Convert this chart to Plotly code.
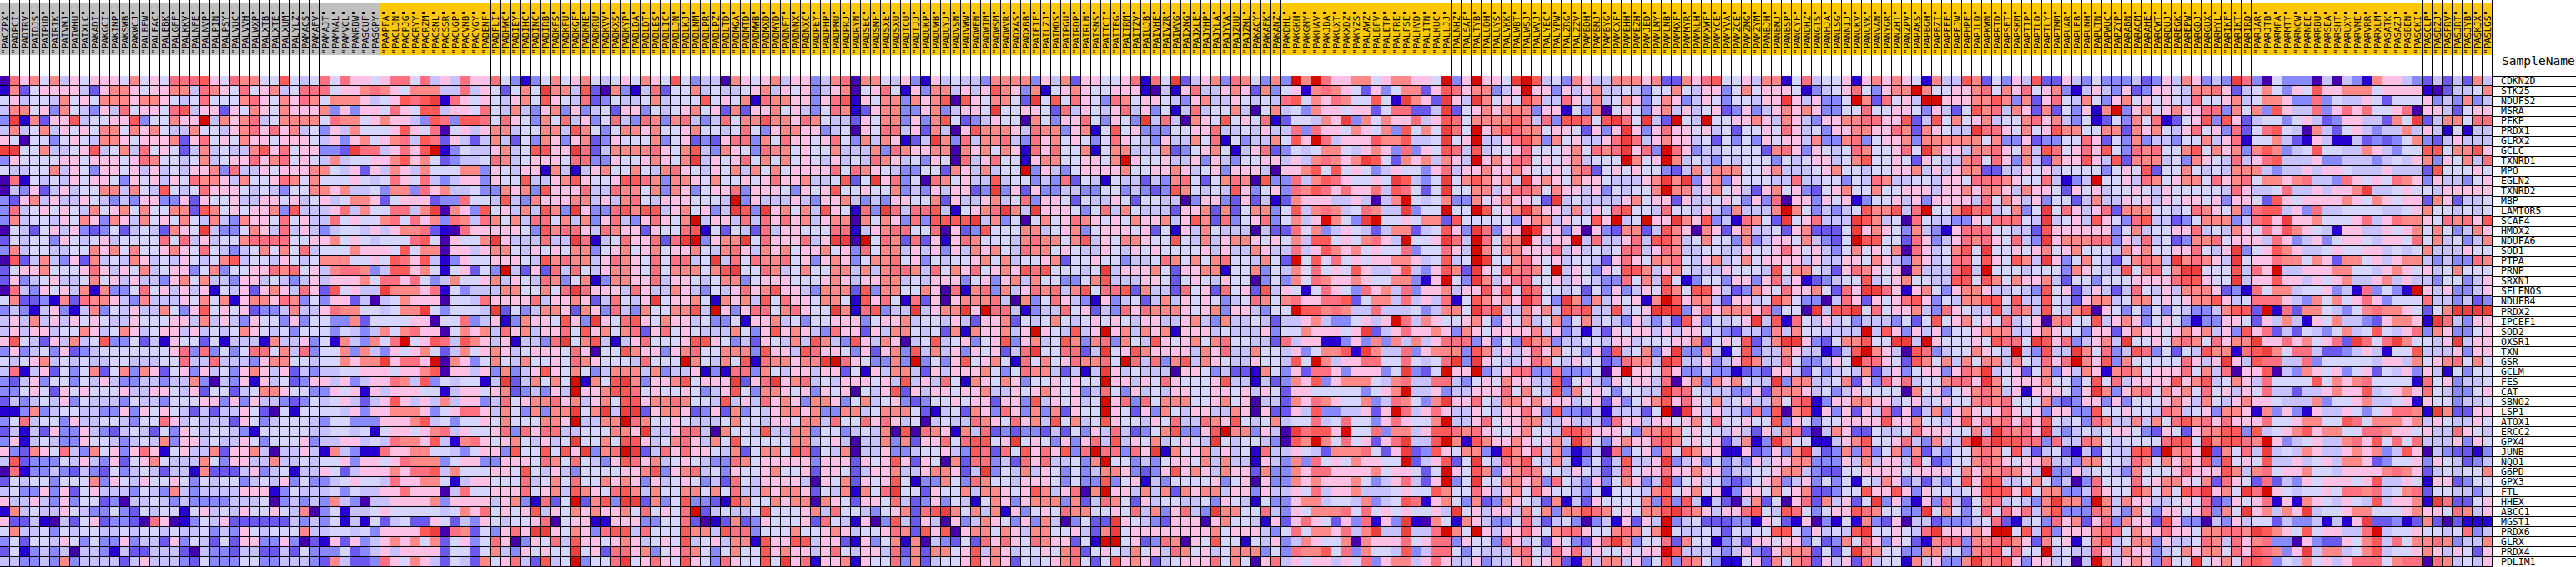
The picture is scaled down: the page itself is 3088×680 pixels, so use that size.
import plotly.graph_objects as go

GENES = """CDKN2D STK25 NDUFS2 MSRA PFKP PRDX1 GLRX2 GCLC TXNRD1 MPO EGLN2 TXNRD2 MBP LAMTOR5 SCAF4 HMOX2 NDUFA6 SOD1 PTPA PRNP SRXN1 SELENOS NDUFB4 PRDX2 IPCEF1 SOD2 OXSR1 TXN GSR GCLM FES CAT SBNO2 LSP1 ATOX1 ERCC2 GPX4 JUNB NQO1 G6PD GPX3 FTL HHEX ABCC1 MGST1 PRDX6 GLRX PRDX4 PDLIM1""".split()

SAMPLES_GRAY = """PACZPX PADPCI PADTRV PAIDJS PAIPUD PAIRIK PAIVMJ PAIWHU PAIXLC PAKADI PAKGCI PAKINP PAKSWB PAKWCJ PALBFW PALEAC PALEBK PALGFF PALKKV PALNFE PALNVP PALPIN PALPSY PALVUC PALVVH PALWXP PALXTB PALXTE PALXUM PALYLZ PAMACS PAMAFV PAMAJT PAMNAL PAMVCL PANRBW PASCUF PASGPY""".split()

SAMPLES_GOLD = """PAAPFA PACLJN PACPJG PACRYY PACRZM PACSNL PACSSR PACUGP PACVNB PACYGY PADENF PADFLI PADHWC PADIEY PADIHC PADINC PADIRB PADKFS PADKFU PADKGF PADKNE PADKRU PADKVV PADKXS PADKYP PADLDA PADLDT PADLES PADLIC PADLJN PADLKJ PADLNM PADLPR PADLPZ PADLTD PADMGA PADMTD PADMWB PADMXD PADMYD PADNFT PADNNX PADNXC PADPEY PADPHP PADPMU PADPRJ PADRYN PADSEC PADSMF PADSXE PADSXU PADTCU PADTJJ PADUKP PADUWB PADUYJ PADVSN PADVWW PADWEN PADWIM PADWSM PADWVR PADXAS PADXBB PAIEIF PAILZJ PAIMDS PAIPGU PAIRDP PAIRLN PAISNS PAITCI PAITEG PAITRM PAITZV PAIUJB PAIVHE PAIVZR PAIWVG PAIXNG PAJXLE PAJYHP PAJYLA PAJYVA PAJZUU PAJZML PAKACY PAKAFK PAKANZ PAKDHL PAKGKH PAKGMY PAKHAV PAKJBA PAKUXT PAKXDZ PAKYZS PALAWZ PALBFV PALETP PALFRE PALFSE PALHVD PALITN PALKUC PALLJJ PALNHZ PALSAF PALTYB PALUDH PALUYS PALVKK PALWBT PALWSJ PALWVJ PALYEC PALYPW PALZRG PALZZV PAMBDH PAMBMJ PAMBYG PAMCXF PAMEHH PAMEZH PAMJED PAMLMY PAMLNB PAMMXF PAMMYR PAMNLH PAMXWF PAMYCE PAMYVA PAMZCE PAMZMG PAMZYM PANBJH PANBMJ PANBSP PANCYF PANDHZ PANGTS PANHJA PANLSG PANNIJ PANUKV PANUVK PANVAN PANYGR PANZHT PANZPV PAPAKS PAPBGH PAPBZI PAPEEE PAPEJW PAPHPE PAPJLD PAPKWN PAPRTD PAPSET PAPSKM PAPTIP PAPTLD PAPTLY PAPTMM PAPUAR PAPUEB PAPUNH PAPUTN PAPWUC PAPZYP PARABN PARACM PARAHE PARCWT PARDUJ PAREGK PAREPW PARGDJ PARGUX PARHYL PARIKF PARIKT PARIRD PARJAR PARJTB PARMFA PARMTT PARNCW PARNEE PARRBU PARSEA PARSHT PARUXY PARVME PARVRR PARXLM PASATK PASAZJ PASBEN PASCKI PASCLP PASDZJ PASFRV PASJRT PASJYB PASKJX PASLGS""".split()

# Colour level of each cell (hex digit 0-b), one block of columns at a time
BLOCK_1 = """0867574656665756588896587755954
1725666642677656677487658567458
5645547565777677654585557865768
4775637543648566589466265765766
3a172669455669355766b4767845777
4745746565775767544755467868674
6505535654776566672685657665666
aa55744569457485652474544 79685 6
3655556656665687554574566867856
5445574653665646454667384465666
0815454656653 65646587764755687
0436246455774754954586665454355
3267464465434366336265564466564
3845656547567575577297565667394
3745546576376475657547 4376658 56
0542564632352454276 5a4335764846
2545536545645555858464557888855
3745544557675755676585 4345757584
09247436274547645 4654579455465 46
2566755568646574566357355 668785 5
2634564457564644367574 4366454 34
08436564717335 8564 6 4615462676487
5722317287764374446575 7 1677687 38
34 31463 1 47354644753695656233474
4647464656544 655566474643655363
4646645 5 7645764566464545765453 
69542647459335 2 41655251444 1744 6
3634536234555555568383535885 74846
5456745454455444558448 4443677554 4
4814625357257376256 3645367 64624
32463553546433443447 3043616 4 52344
335 65265655564466546255245776555
2434546354443544355566363644 32344
1137345544336 365 6 542424465 2 05 15
358455364455435 58645 44426534 5555
2414263364324 54253654554 315 55552
3614543365543454736645 44653555 63 4
63276 584 37563 68 6 1564 47 2667 4 044 6
49 23335 46436 25 67544 47536644 744
0813343243 2 5 345 42 441 7 222 463 4 51 4
25455 35557 3 654655 6 53 545 53 4 54 6 35
45 3 3 6 3 6 2 5 6 4 4 4 3 5 4 3 7 4 3 4 4 4 4 6 6 6 1 3 5 4
6446 4 3 6 3 5 5 2 3 0 4 4 5 4 3 4 3 3 3 3 4 4 4 5 0 3 4 3
1745446 5 4 3 3 5 3 2 5 4 5 5 1 5 6 4 5 4 6 5 5 6 5 4 7
6 2 2 4 1 0 4 2 5 6 2 3 3 2 0 8 6 0 1 3 5 4 6 2 2 2 2 2 2 4 3
5 7 4 4 5 3 5 4 5 5 4 4 5 4 5 5 4 5 4 4 5 3 4 3 6 5 4 5 5 5 7
3 5 2 5 5 4 6 5 3 5 3 3 6 3 4 4 2 6 3 5 4 2 5 2 6 6 3 3 6 3 0
2 5 1 3 4 3 4 0 4 4 3 1 4 2 2 4 4 4 2 0 4 3 3 2 4 4 2 2 4 2 5
4 4 3 3 4 3 7 3 4 4 4 4 2 4 6 4 4 4 3 2 5 3 3 3 5 5 3 3 4 4 4""".split("\n")

BLOCK_2 = """5 8 5 8 6 6 5 6 8 8 5 8 4 6 4 8 6 6 8 5 3 1 3 5 7 5 6 7 5 4 5
8 8 5 6 6 7 8 7 6 5 7 7 7 4 4 8 4 6 5 2 5 7 5 a 7 7 4 9 2 0 7
7 5 7 7 7 6 4 5 6 9 8 9 a 1 8 6 5 6 5 4 6 7 5 9 6 5 4 8 2 3 5
6 7 3 6 3 6 6 5 8 6 5 9 9 4 6 6 5 8 5 4 7 4 3 6 7 3 6 3 4 5 2
7 5 8 7 7 5 6 7 6 6 4 3 9 8 3 9 9 8 5 8 6 5 3 7 5 8 4 6 3 5 8
5 3 6 4 7 5 5 5 6 9 6 5 8 0 5 6 4 6 7 7 4 5 5 7 7 4 9 7 5 3 5
5 4 6 3 6 7 5 6 7 8 4 9 8 2 6 4 2 4 7 4 2 5 3 7 6 3 6 7 2 3 6
6 3 3 2 a 8 8 4 6 8 6 9 b 1 3 5 4 4 6 7 4 5 9 9 6 6 a 8 2 4 7
5 4 7 4 5 5 6 6 7 9 6 7 5 2 3 4 4 5 8 7 4 5 6 6 6 5 8 8 3 3 6
7 7 5 4 6 2 6 4 7 6 4 7 5 5 5 7 7 3 6 5 4 6 6 1 7 4 1 4 6 7 5
7 5 5 5 6 5 4 5 8 6 5 8 4 3 4 6 6 3 6 5 5 9 4 4 6 7 9 6 5 5 6
7 7 6 7 4 4 5 3 7 7 3 8 6 7 4 4 5 3 3 7 6 7 3 9 6 6 6 8 4 4 8
5 6 4 5 7 7 6 2 5 6 6 6 2 3 3 8 5 5 4 9 4 3 7 6 6 6 7 7 4 6 4
4 4 6 8 4 7 5 5 8 8 4 7 a 0 7 6 3 9 5 6 4 7 4 9 7 3 a 6 3 3 8
4 4 8 5 6 5 5 7 8 5 8 6 7 3 8 7 4 8 7 5 7 4 8 8 5 7 4 7 3 6 8
4 3 4 5 5 4 6 4 6 7 7 8 2 1 0 8 6 6 6 6 6 5 3 9 7 8 8 6 4 8 7
6 6 7 5 6 5 4 5 5 5 8 9 5 0 6 5 5 7 a 6 4 4 4 8 4 4 a 8 1 4 5
4 5 5 5 7 6 6 6 5 9 5 7 7 0 6 6 4 6 7 7 5 4 6 5 6 5 7 7 3 5 6
5 7 7 7 5 5 6 5 9 8 6 9 4 1 3 6 5 5 6 6 6 5 4 9 7 8 7 7 4 6 8
6 4 7 8 8 7 3 4 9 9 6 7 5 1 5 6 2 5 3 b 4 2 6 2 8 4 8 5 4 6 7
6 4 6 6 6 7 5 8 8 6 8 5 3 4 7 5 5 6 7 4 6 5 4 8 7 3 5 7 1 3 7
6 2 9 5 6 4 4 a 7 7 7 6 8 1 5 3 4 4 4 7 7 5 5 7 5 8 a 8 6 6 6
5 3 6 6 2 4 0 4 5 7 6 6 6 0 5 5 4 8 6 6 6 6 8 4 6 6 7 6 2 4 8
4 6 8 7 7 5 5 4 5 7 7 a 5 3 5 5 5 4 a 2 5 3 4 7 7 6 2 7 6 3 8
5 5 3 3 7 2 5 5 5 5 6 6 0 5 5 8 3 4 6 1 3 7 6 6 5 9 6 3 a 6 5
5 5 3 5 4 3 4 7 5 7 8 6 6 0 5 7 6 7 4 8 6 7 4 6 6 8 5 9 6 7 5
3 5 1 7 4 3 7 5 8 b 5 6 9 8 4 9 7 6 4 6 1 4 4 3 8 a 5 7 9 4 1
3 5 5 7 3 7 4 3 6 5 6 7 5 2 4 7 5 6 7 6 4 5 6 6 6 5 8 6 0 5 5
4 5 5 7 6 7 7 a 6 8 8 6 b 0 7 6 3 5 7 5 4 7 5 5 6 5 8 7 6 5 5
3 4 4 5 5 6 6 6 5 6 6 7 9 0 6 6 4 6 3 7 3 4 6 9 6 5 7 5 3 4 7
6 6 4 6 3 4 6 6 8 7 4 9 3 5 4 5 5 1 4 a 2 4 7 5 7 5 b 1 7 5 9
3 3 6 5 6 1 6 4 6 6 6 5 5 1 4 6 6 5 6 7 2 3 4 3 6 4 b 6 6 7 9
5 4 5 6 4 2 4 6 9 6 4 6 4 7 4 6 6 3 4 8 5 6 7 7 8 6 7 4 6 7 5
5 5 5 4 6 3 6 6 7 7 7 6 3 5 6 8 8 6 4 7 5 3 7 3 7 7 a 5 7 a 4
4 3 5 5 3 3 3 6 6 6 7 9 4 5 3 5 5 6 5 7 5 5 5 7 7 6 b 4 4 7 7
4 4 5 5 4 5 1 5 6 6 5 6 7 8 4 6 5 5 6 8 3 8 6 8 8 4 4 5 5 5 7
3 4 4 6 6 4 5 4 8 7 7 6 9 4 1 7 8 6 5 6 7 5 4 6 4 5 a 5 5 7 5
4 1 7 4 3 1 1 8 6 6 7 7 5 5 4 3 5 6 6 3 9 5 5 9 5 9 6 a 3 7 8
4 5 5 6 3 6 6 5 6 8 7 7 7 3 5 6 6 3 3 6 6 6 5 8 7 5 8 5 4 3 6
4 6 5 2 4 6 6 6 7 6 8 8 9 4 7 5 5 5 6 6 5 9 5 4 6 4 3 5 5 5 5
3 3 4 5 6 5 5 4 8 6 6 7 7 5 1 4 6 6 5 5 5 8 4 5 7 5 8 5 5 7 6
4 4 5 3 5 4 4 6 6 8 6 6 6 0 4 8 5 5 6 6 6 8 5 6 7 4 9 7 6 5 8
4 3 7 4 3 0 4 4 6 6 6 6 7 3 6 6 6 6 4 6 7 3 1 8 2 5 b 2 7 9 3
0 3 5 1 4 4 5 6 5 5 5 5 5 4 5 7 6 8 5 6 5 6 9 4 6 5 7 6 7 6 6
4 3 5 1 4 1 5 2 4 5 2 2 6 5 2 4 3 6 5 4 5 5 6 8 0 5 6 6 1 1 6
4 4 5 5 4 5 3 6 6 6 6 9 a 0 8 7 2 5 3 6 8 6 a a 6 5 7 6 3 8 9
2 1 6 2 6 3 4 6 7 6 7 5 7 2 5 6 3 5 8 6 0 3 6 5 8 4 9 6 6 5 6
3 3 3 5 2 3 4 6 4 6 6 6 6 2 5 5 2 5 7 4 3 6 5 6 5 5 a 5 6 2 8
3 2 7 4 2 2 3 8 6 5 7 6 4 2 5 4 2 7 5 6 8 4 2 9 4 5 b 3 5 5 8""".split("\n")

BLOCK_3 = """6 5 7 6 5 9 5 3 4 4 0 7 6 5 6 7 4 6 6 3 4 7 8 0 7 7 5 4 6 3 1
3 1 4 8 2 5 5 7 4 5 4 4 5 6 7 4 6 5 6 3 4 6 7 0 5 6 8 5 1 6 3
4 4 5 7 4 5 5 5 9 5 6 5 7 1 8 7 7 6 6 3 6 8 9 1 6 5 7 7 3 7 6
6 6 3 5 4 5 6 7 5 6 2 7 2 6 6 7 5 6 4 3 5 8 7 1 2 6 7 7 3 3 6
4 3 8 7 3 7 8 4 3 4 8 5 7 7 9 7 7 6 8 7 5 4 4 2 6 5 7 7 3 6 3
7 7 6 7 5 5 6 7 5 5 4 5 8 5 3 6 7 7 6 6 3 4 5 0 6 5 8 8 4 6 2
5 5 5 7 3 5 6 2 3 2 6 8 8 3 7 5 8 6 6 5 6 8 5 3 7 4 7 6 1 2 4
7 7 7 8 6 5 7 9 4 3 7 6 5 3 8 7 7 5 6 5 5 7 4 4 4 7 3 8 7 6 6
5 5 6 7 6 5 7 a 4 6 5 6 8 5 7 5 7 5 6 5 4 6 4 5 4 8 7 6 4 5 3
5 7 5 4 7 8 6 5 4 6 5 7 4 7 5 7 5 6 6 6 6 8 5 8 7 6 5 4 3 3 5
9 9 8 7 3 7 7 6 5 7 5 5 6 5 6 8 6 6 7 4 4 5 9 2 5 a 6 8 3 5 0
7 7 5 7 3 7 6 3 5 6 6 8 3 6 6 6 5 3 6 5 6 9 5 5 6 5 5 7 3 4 3
7 8 5 4 6 6 6 5 5 5 4 b 3 6 4 4 4 6 4 3 6 6 7 4 3 4 3 6 6 5 5
9 7 9 9 4 6 7 5 6 3 4 a 9 3 a 6 7 5 7 4 9 6 5 1 8 3 a 8 4 8 8
4 3 6 8 6 5 7 b 4 6 6 4 8 4 8 6 8 6 7 4 6 7 7 0 7 5 7 6 3 8 3
6 6 2 6 5 5 8 9 1 5 2 5 4 2 8 4 6 6 5 5 5 8 8 1 4 6 7 8 8 5 5
8 6 6 8 2 8 a b 3 6 7 7 a 5 8 6 6 6 8 4 6 a a 0 b 5 8 7 2 8 2
7 5 6 7 5 6 6 7 5 4 7 8 6 4 7 6 7 5 6 6 7 5 6 3 8 5 7 7 4 6 4
7 6 5 8 5 8 8 4 5 a 4 8 5 8 7 7 8 5 6 3 6 7 6 3 5 7 7 8 5 6 3
7 6 5 8 5 7 7 7 5 7 9 a 5 5 8 7 4 5 7 5 5 7 7 4 7 4 7 8 8 7 4
7 6 6 8 4 6 6 5 4 5 7 7 3 5 6 6 6 5 5 5 6 7 6 4 6 6 7 7 4 5 4
4 8 6 4 4 7 6 4 3 5 4 6 8 6 7 9 6 6 4 3 7 7 7 2 9 3 7 7 5 5 7
5 4 6 a 5 6 6 7 5 1 7 6 7 4 9 5 8 6 6 5 7 7 5 1 9 6 8 5 1 8 2
4 3 7 5 5 7 7 9 4 b 6 3 6 8 8 5 7 8 6 5 5 a 7 1 8 9 3 4 4 a 4
8 9 6 5 7 6 6 4 5 3 3 5 1 6 6 7 4 5 3 5 5 6 6 6 3 5 6 6 7 4 5
7 8 2 6 8 5 6 5 4 4 4 7 5 3 6 9 6 7 6 4 3 8 6 6 2 6 4 7 7 5 4
4 6 8 5 5 5 6 9 9 6 5 3 4 2 6 5 4 7 4 9 7 4 3 9 6 4 7 6 0 4 5
9 7 6 6 3 6 7 8 5 5 7 7 7 3 9 6 6 4 9 8 6 6 5 3 6 2 6 7 3 9 4
5 4 8 5 5 5 b 7 5 4 7 5 9 1 8 7 7 6 7 7 a b 8 6 5 3 3 7 3 b 3
7 7 4 7 3 4 4 6 1 3 1 8 8 3 7 5 4 6 6 4 6 6 2 5 1 6 4 7 7 4 2
a 7 3 6 6 7 9 5 6 6 6 a 2 6 8 a 6 7 8 4 5 4 6 6 6 5 6 4 9 4 6
9 8 5 6 5 5 6 5 3 4 6 9 5 3 7 7 6 5 6 3 6 5 6 0 5 4 6 9 2 6 4
9 9 6 7 7 8 7 5 5 4 9 4 6 4 8 6 7 6 3 7 7 6 3 5 7 4 5 6 3 2 3
a a 2 6 7 7 6 2 3 6 2 7 3 5 4 6 7 7 6 7 3 3 7 7 4 5 7 7 7 5 2
b 8 7 5 5 6 5 4 4 4 5 7 5 5 4 6 6 5 7 7 4 8 5 5 8 6 8 6 4 5 0
7 6 a 4 4 6 8 8 4 0 7 5 5 4 9 4 4 7 7 3 5 5 3 4 5 4 7 0 9 0 8
9 9 6 4 5 7 8 6 4 7 5 9 5 5 5 5 5 7 7 4 5 6 4 0 4 4 7 3 7 2 6
b a 2 4 8 6 8 6 6 5 4 7 2 5 7 7 5 9 8 2 5 4 7 0 4 4 6 3 3 4 5
9 8 6 7 4 5 6 5 4 3 3 8 7 5 6 6 6 6 6 3 6 6 6 2 6 5 6 9 6 2 6
6 6 7 9 3 6 7 8 4 5 3 6 5 5 6 7 5 5 6 2 6 6 5 2 4 6 6 7 4 4 6
7 6 3 6 4 5 6 5 3 4 2 8 5 4 6 6 6 6 4 0 6 5 7 2 6 5 6 9 5 1 3
9 7 4 7 5 5 7 7 5 7 5 8 4 4 7 6 7 7 6 2 5 4 7 1 7 5 8 a 5 5 2
a a 2 7 3 5 9 3 3 2 1 9 7 5 5 7 6 7 7 0 7 6 5 2 6 6 5 8 4 2 3
7 5 8 5 6 5 8 b 2 4 5 4 4 5 9 5 5 5 6 7 4 8 5 5 4 3 5 6 7 2 8
6 6 3 3 5 5 8 2 0 1 2 7 2 3 6 5 5 5 6 2 8 5 4 1 6 0 3 9 4 2 6
9 4 8 5 5 5 9 7 7 4 9 8 8 3 5 5 5 7 5 5 6 7 6 4 5 5 6 8 7 2 9
7 6 4 5 6 5 9 4 5 6 4 7 7 1 9 6 6 9 9 4 6 6 2 1 6 3 5 7 1 7 0
8 6 7 3 5 6 8 7 5 3 5 7 5 5 9 6 7 6 6 4 6 8 5 4 6 6 4 8 2 7 2
a 5 6 8 6 5 9 6 5 3 8 6 5 5 9 5 a 6 8 1 6 6 7 1 6 5 5 8 3 7 2""".split("\n")

BLOCK_4 = """6 4 5 4 4 3 7 7 7 7 3 6 4 7 2 6 6 5 5 6 8 1 8 5 a 2 4 6 7 3 8 7
7 7 4 6 4 6 9 7 6 3 7 1 5 6 7 6 5 5 6 6 6 1 0 4 1 6 8 4 4 6 7 6
7 9 0 9 6 5 7 7 5 2 a 5 9 5 8 6 5 3 8 7 5 6 6 5 4 3 6 7 4 4 6 5
7 3 4 6 6 5 a 5 5 6 6 5 2 8 4 6 5 4 6 8 4 6 3 5 1 4 8 4 5 5 7 4
7 9 5 2 3 4 6 5 5 0 7 5 3 6 6 8 5 3 6 5 3 a 4 8 4 0 7 6 5 9 5 6
7 4 0 6 9 7 7 7 6 4 8 7 7 3 6 7 1 5 9 5 6 3 3 3 5 5 6 6 8 4 4 5
a 7 3 8 4 7 7 8 4 3 8 6 7 5 6 5 3 5 8 6 5 4 3 6 4 4 7 5 8 1 5 3
7 7 0 7 6 7 5 7 6 1 8 6 8 5 5 7 1 5 7 7 4 4 4 7 2 3 5 6 7 5 1 4
6 5 0 8 4 6 8 5 5 1 6 7 7 5 5 6 6 5 7 b 6 5 5 6 4 4 6 3 6 4 3 5
5 2 7 6 4 7 4 5 5 b 3 6 4 3 5 6 6 6 6 7 5 5 6 6 7 6 4 5 6 3 6 6
8 7 5 6 4 4 9 4 5 5 3 4 3 8 2 5 4 1 5 4 4 2 4 3 7 8 5 2 5 7 8 7
6 4 6 6 2 3 a 3 6 2 6 3 3 4 4 3 3 5 5 3 4 3 2 3 9 7 5 4 5 4 9 6
7 2 6 4 4 6 7 4 5 8 3 6 6 5 2 5 4 4 6 5 2 5 5 4 4 0 3 6 6 3 2 6
9 4 1 5 6 7 8 a 7 4 a 6 6 6 5 3 5 8 4 7 5 4 4 4 2 6 6 7 2 7 2 5
9 9 9 9 a 4 7 3 5 0 5 7 5 6 8 7 6 5 6 5 7 6 6 7 4 6 9 7 2 8 3 5
8 0 6 2 3 9 5 5 5 7 7 4 5 6 7 3 5 6 6 6 5 6 2 5 1 6 4 7 5 4 4 4
6 1 6 8 7 5 5 5 4 7 8 7 7 5 7 9 4 6 5 7 7 6 5 5 9 5 4 7 4 6 7 7
6 3 6 4 7 6 7 5 4 8 7 7 5 6 5 4 4 6 5 4 6 5 6 5 5 5 5 6 4 6 4 4
5 4 5 5 6 7 5 7 4 5 5 6 7 2 5 5 6 5 5 3 4 4 5 8 7 5 7 5 7 8 5 5
8 5 7 6 8 5 6 7 6 9 8 9 5 5 5 4 5 a 4 6 6 6 7 5 2 6 6 7 7 1 5 5
6 6 6 3 5 6 3 6 7 4 7 5 5 3 3 5 7 9 4 4 4 6 6 5 2 5 6 5 4 6 5 5
6 0 8 1 7 8 3 7 4 6 8 7 8 4 7 9 5 8 8 9 2 7 4 4 2 8 5 6 2 8 5 6
6 0 6 7 7 7 8 4 0 7 3 5 8 6 4 3 1 6 3 4 5 2 4 7 4 6 5 6 5 3 4 5
6 7 7 a 6 b 8 8 4 1 3 4 4 8 5 6 2 4 3 8 6 8 7 7 7 6 5 6 7 3 6 6
5 4 6 4 2 6 6 7 2 5 4 5 7 5 4 5 6 5 6 5 4 6 6 4 4 6 7 4 3 7 4 4
5 2 7 1 7 6 6 7 4 6 b 6 5 4 9 4 6 b 6 7 4 7 6 7 1 6 6 6 4 5 4 4
9 4 5 6 3 5 6 9 3 6 7 4 5 9 7 3 7 8 3 7 5 4 9 6 5 6 7 5 7 8 5 5
7 4 6 3 6 5 6 2 4 8 a 5 5 8 8 2 4 a 5 6 9 7 6 6 6 6 4 7 6 8 4 4
5 3 6 9 5 6 7 5 1 8 5 7 5 6 8 7 7 8 5 b 8 4 8 3 7 9 4 7 6 5 4 4
6 4 6 6 6 7 5 3 5 8 7 7 4 2 4 1 4 a 6 4 5 4 4 4 0 6 6 5 3 4 2 2
4 8 5 1 7 6 5 7 6 3 5 5 6 5 6 5 5 b 6 6 4 6 5 8 6 5 5 5 6 9 4 4
6 6 5 6 6 7 4 4 6 5 6 7 6 5 6 3 4 8 5 3 6 4 5 4 6 6 5 5 6 6 5 6
5 5 6 5 6 6 2 6 6 3 9 4 6 5 6 4 5 b 6 8 3 8 5 7 7 7 5 5 6 7 5 6
1 4 5 2 7 6 3 8 6 3 7 3 7 2 6 5 5 b 6 5 2 6 3 7 5 4 6 6 4 4 7 6
4 5 4 4 8 7 6 5 8 6 7 4 9 5 7 4 5 9 6 5 5 4 6 5 8 4 4 8 7 6 9 5
7 6 1 7 4 8 2 3 2 3 3 2 4 2 5 3 6 4 8 4 2 3 5 7 9 3 3 6 9 b 7 7
6 8 5 8 9 9 5 6 a 5 6 5 3 6 3 6 8 4 9 4 6 5 7 4 5 6 5 4 a 5 4 5
5 6 4 3 9 8 2 8 5 9 6 8 6 9 3 8 b 8 8 3 8 6 a 1 7 5 6 7 4 6 4 5
5 0 7 2 8 8 3 4 2 8 6 8 4 4 5 3 7 b 5 5 3 4 3 5 6 6 5 7 4 7 4 4
7 7 6 2 4 a 3 5 4 7 4 6 5 3 5 3 4 7 7 6 3 2 3 6 9 6 7 6 4 7 6 6
3 7 5 3 8 7 5 5 4 6 6 6 5 3 5 3 3 9 3 5 6 1 4 3 5 5 5 5 6 3 5 6
6 5 5 7 4 7 7 6 5 6 9 7 4 6 8 0 7 b 6 6 4 7 4 7 2 7 6 7 7 4 6 6
6 3 5 4 1 5 7 6 3 6 7 7 7 3 7 2 4 8 7 5 2 6 4 5 5 4 4 5 3 6 5 4
9 a 7 5 7 4 7 1 6 3 5 6 5 8 7 7 5 5 6 5 8 4 7 3 6 8 4 3 a 7 7 5
4 0 6 3 4 7 6 5 3 6 3 7 4 0 3 5 2 2 a 6 5 4 3 2 6 6 6 0 6 7 5 5
6 9 0 6 7 7 5 7 6 4 7 7 5 5 6 4 2 7 a 5 6 6 6 6 6 6 6 6 7 5 6 6
4 3 2 5 2 8 6 8 6 5 8 7 6 6 2 5 1 b b 5 6 2 3 8 7 0 6 5 9 5 5 1
7 7 5 6 9 4 7 6 4 5 5 6 5 7 8 2 5 6 5 4 7 5 6 4 8 7 5 6 4 5 7 7
4 5 5 6 9 6 7 6 2 5 4 5 6 7 8 5 2 5 9 6 7 6 2 4 5 6 6 6 8 5 7 5""".split("\n")

BLOCK_5 = """5 3 7 3 b 7 b 8 6 6 7 7 5 6 7 7 6 6 5 b 3 6 b 6 6 5 a b 9 4 5
2 7 3 5 6 1 7 8 7 6 5 2 6 3 5 7 7 2 6 9 8 6 7 7 3 4 6 b 6 6 3
4 5 4 8 9 5 7 6 8 7 5 5 9 5 1 a 7 6 2 a 6 4 a 7 5 6 5 9 7 4 4
0 5 7 4 5 3 7 6 6 5 6 6 2 5 8 8 2 2 4 a 2 5 6 7 6 7 7 7 3 6 6
5 8 1 2 5 5 4 7 6 a 3 7 5 7 6 6 8 4 6 9 8 5 7 7 7 7 9 7 4 8 3
4 6 4 4 8 3 8 6 6 5 7 6 5 7 3 9 5 7 5 a 8 5 b 6 7 9 8 7 7 5 6
4 4 7 5 9 6 b 8 4 6 6 6 9 7 7 9 4 4 5 a 5 6 b 4 4 6 8 9 7 3 7
6 8 2 3 5 4 5 7 7 5 4 6 7 6 3 8 3 6 5 9 8 4 9 4 5 5 6 8 5 5 5
5 6 6 4 6 4 7 8 7 6 7 a 9 5 2 7 6 7 4 7 6 4 b 6 7 6 8 8 5 6 5
6 4 0 6 6 7 9 5 9 5 6 5 3 4 6 5 5 3 6 8 4 6 6 7 6 6 7 6 5 5 6
0 9 3 3 8 4 7 9 8 6 5 5 6 5 a 9 4 3 5 a 5 7 9 7 6 7 5 a 6 7 6
3 5 6 3 8 7 9 8 6 8 6 6 8 4 9 8 5 2 5 a 5 5 7 7 4 6 8 8 7 5 7
2 4 1 2 7 6 6 6 4 4 6 4 0 4 7 b 5 4 5 7 3 3 7 5 6 7 6 6 5 2 a
7 7 3 5 9 4 7 8 7 4 5 8 7 4 4 a 3 5 5 b 5 5 b 9 5 6 7 a 7 6 6
6 8 3 5 7 4 6 b 7 5 3 a b 5 5 6 5 7 7 2 9 5 5 5 5 5 3 6 7 7 4
0 4 2 2 8 5 7 3 4 6 5 4 2 4 7 7 2 4 5 9 6 3 a 8 3 6 6 b a 6 6
6 5 6 5 7 4 9 9 5 6 5 7 8 6 4 b 5 5 6 a 8 4 b 8 5 7 7 b 6 4 6
7 6 4 4 8 4 6 9 7 6 7 5 6 5 5 8 3 5 5 8 6 4 b 7 5 7 7 6 6 6 8
4 7 5 2 b 5 9 5 8 5 6 5 6 6 7 7 6 4 5 9 4 5 b a 5 5 7 8 6 5 6
7 3 5 4 7 5 8 5 6 5 9 6 4 4 6 9 4 3 6 9 7 2 a 6 5 9 7 8 7 5 b
0 3 5 3 7 5 8 7 6 6 7 6 5 5 7 7 3 1 6 b 5 3 a 7 4 6 8 8 5 5 6
2 9 4 6 5 1 5 8 6 5 3 8 6 7 4 8 3 6 6 7 4 6 6 9 6 9 5 9 8 5 5
8 7 5 7 8 6 6 8 8 9 2 5 7 7 4 8 4 6 4 8 1 5 9 7 6 7 6 a 8 5 3
4 3 5 5 b 9 9 7 8 7 4 4 8 4 4 4 5 3 4 7 7 5 a 8 9 4 4 7 6 7 4
5 4 2 4 4 6 7 4 3 3 5 6 4 6 b 8 4 7 6 5 5 6 7 5 3 6 5 7 4 5 7
4 6 3 5 5 7 6 6 6 5 6 a 2 4 6 8 6 6 7 6 3 7 6 5 6 6 6 6 7 4 6
4 4 2 8 4 6 6 1 1 3 6 3 7 3 7 4 7 4 6 8 8 8 3 6 3 5 3 9 7 7 3
7 5 5 4 6 3 5 7 7 9 1 a 7 4 4 8 3 6 7 7 7 3 9 7 4 6 4 6 8 6 7
6 5 5 4 9 5 b 7 4 6 6 8 8 5 5 8 5 4 5 8 a 3 a 6 5 4 4 6 8 7 5
1 7 5 3 6 2 8 8 6 3 6 6 6 3 5 a 3 2 5 b 6 6 b 3 4 6 8 8 3 3 8
1 4 2 3 7 6 9 3 6 7 7 7 5 4 7 8 4 4 8 8 4 3 5 6 5 7 6 6 4 4 9
4 6 5 2 6 6 5 5 5 5 5 3 5 6 7 b 4 4 6 3 4 4 6 6 6 8 5 7 5 4 9
0 4 4 2 7 6 8 7 6 5 5 7 3 4 8 7 5 3 7 a 6 6 8 5 4 7 7 6 7 6 6
0 6 2 2 6 4 9 3 3 4 4 6 2 6 b 8 4 6 8 6 4 4 6 5 4 6 6 8 6 3 9
4 5 7 4 5 5 8 4 5 8 5 5 3 6 8 6 5 5 7 b 4 4 6 8 5 6 6 7 7 4 4
3 6 4 0 a 8 9 9 6 b 5 5 8 3 7 7 4 6 9 9 8 7 8 6 5 5 6 7 5 5 4
5 4 3 0 9 7 b 7 5 8 5 6 2 6 8 a 4 4 9 b 7 1 9 7 6 6 7 6 5 6 7
1 8 4 4 6 5 4 2 7 7 7 8 5 2 6 a 2 3 9 6 5 7 7 3 1 9 7 6 8 4 7
1 6 4 3 7 3 8 5 6 5 7 6 6 5 5 b 2 4 6 9 2 5 a 5 4 8 7 9 5 4 7
2 7 3 3 7 6 8 8 6 6 6 6 7 5 6 6 5 2 5 b 6 5 9 7 3 6 7 8 7 5 5
0 6 3 3 7 6 7 6 6 6 7 5 3 4 6 8 4 2 6 b 3 5 a 5 5 7 7 6 7 3 8
3 6 4 4 6 5 8 4 6 6 7 4 4 4 5 6 5 5 9 7 5 5 8 6 4 6 7 5 8 6 5
1 5 3 3 6 7 7 4 5 5 4 7 3 4 5 9 8 1 6 7 5 3 7 2 3 7 6 5 4 2 7
5 8 4 3 6 5 7 7 7 8 5 8 5 6 5 6 5 5 6 4 a 5 6 4 6 6 4 7 5 7 3
4 1 6 2 6 8 6 5 2 6 3 8 1 6 3 a 1 0 7 5 1 7 6 4 3 3 5 8 4 2 4
6 4 3 5 8 5 7 7 6 8 4 7 a 4 4 a 4 4 8 b 7 5 b 6 4 6 6 8 6 5 7
5 4 6 3 4 7 6 5 5 7 0 7 6 6 6 8 5 6 8 8 3 6 5 5 3 8 6 4 5 2 6
7 3 5 3 8 7 7 9 5 8 3 7 5 5 4 9 3 4 8 8 5 3 5 4 4 4 7 8 5 4 8
0 6 8 4 6 5 6 6 4 6 5 8 3 6 7 7 4 6 8 6 4 4 6 3 4 4 6 7 5 6 7""".split("\n")

BLOCK_6 = """3 7 6 4 4 7 7 7 6 7 2 2 7 6 8 9 5 5 6 4 7 7 1 5 8 4 5 5 6 1 6
6 4 6 7 4 4 5 4 3 5 5 7 5 4 6 6 3 5 7 5 6 6 6 5 1 3 4 5 6 8 5
8 6 4 7 4 5 7 6 3 5 7 6 3 4 6 5 3 5 5 4 6 6 a 6 4 6 3 3 5 b 7
1 5 3 7 0 5 6 5 3 6 7 4 6 4 5 6 2 3 6 3 4 6 7 6 7 6 3 3 5 5 8
9 9 8 5 9 a 8 5 a 4 2 b 5 4 b 5 5 6 6 7 6 4 7 6 4 3 6 6 7 7 8
6 5 2 6 3 6 a 6 3 6 8 6 6 5 6 4 5 2 5 5 6 5 8 6 4 5 3 6 6 7 7
5 6 4 4 6 8 a 8 4 6 7 6 6 4 5 2 5 3 5 3 6 5 6 6 4 7 3 3 7 8 3
6 7 5 8 7 8 a 6 8 3 b 8 6 3 4 4 5 5 5 5 2 7 8 6 3 6 5 4 5 8 7
6 7 4 5 5 5 b 7 5 6 b 7 4 5 4 3 5 4 5 5 5 3 5 4 5 6 6 4 5 7 9
5 7 8 2 5 6 5 6 5 5 3 2 4 7 4 7 7 7 5 5 6 7 4 4 4 5 6 7 5 5 4
5 7 6 6 5 4 4 4 6 7 a 7 a 3 6 7 3 6 5 5 5 4 4 8 4 4 5 5 3 5 4
6 6 4 6 3 5 4 5 5 7 b 7 7 4 6 7 5 6 4 2 6 7 5 6 3 2 5 6 7 5 5
4 5 4 4 4 4 6 7 5 6 6 2 6 4 4 5 6 5 3 6 3 8 0 6 6 3 6 5 6 1 3
4 7 4 6 5 8 9 5 5 4 8 5 5 4 6 4 3 7 4 4 4 7 b 7 5 3 4 3 4 5 9
6 5 5 9 6 b 4 5 b 6 6 a 7 6 9 3 4 1 8 7 5 2 a 5 6 8 4 4 4 a 9
3 6 0 6 3 2 7 7 2 4 9 7 6 0 7 6 2 6 7 4 4 5 2 6 7 2 2 2 5 a 6
6 b 4 8 4 4 6 8 4 9 9 7 4 5 7 5 5 3 7 3 4 6 6 5 7 4 3 2 5 b 9
4 6 4 5 4 5 8 8 4 6 8 7 4 4 5 5 4 4 6 5 5 6 8 6 5 6 4 3 5 7 5
4 5 5 4 2 6 8 6 5 7 7 8 5 4 6 7 4 5 7 5 6 6 6 6 4 6 4 4 6 6 5
4 6 5 3 6 5 9 9 7 4 6 7 5 4 4 4 6 5 5 5 4 9 5 7 7 5 4 2 6 8 7
4 6 5 4 3 3 8 5 7 4 9 5 1 3 5 5 3 6 6 3 6 8 4 6 1 2 3 4 5 5 9
4 5 2 5 3 6 3 4 6 5 9 7 5 9 9 6 4 2 3 7 6 5 8 6 6 7 5 2 8 6 a
a 7 3 7 4 6 5 6 1 7 b 9 6 7 7 4 2 6 6 4 5 9 7 5 3 3 0 4 8 6 2
9 8 9 4 4 9 4 5 6 a a a 3 6 8 6 7 7 7 6 8 3 5 5 0 a 4 9 9 a 5
3 5 7 4 5 4 3 6 4 3 4 2 9 6 3 5 4 5 6 a 4 9 1 8 5 4 6 4 5 3 4
3 4 1 4 2 6 5 6 6 4 6 4 6 6 5 4 3 2 4 4 3 7 4 7 5 5 4 4 4 4 b
4 4 5 5 4 6 6 4 5 5 5 6 6 7 2 5 6 5 9 2 4 7 a a 6 3 2 5 7 7 9
5 5 3 6 2 9 4 5 7 3 6 a 3 3 7 4 1 5 9 3 4 4 7 6 4 4 1 2 4 9 b
4 6 5 5 2 3 8 7 7 4 a 9 4 4 6 3 4 6 9 7 4 4 8 5 3 3 4 6 5 b 8
3 3 3 5 0 6 b 6 6 5 8 6 3 3 4 3 3 1 2 3 2 6 6 4 2 5 3 4 5 4 7
2 5 6 4 3 6 5 6 6 4 8 0 6 7 3 7 6 7 5 4 4 a 3 7 7 4 4 5 7 2 6
3 7 5 6 5 3 5 5 4 4 a 8 8 5 4 4 4 3 3 6 2 7 7 7 6 4 5 3 4 6 5
6 4 5 6 2 6 3 5 6 7 9 6 8 6 5 7 4 5 6 4 4 7 5 8 9 1 3 6 6 7 7
3 3 2 4 1 4 4 4 2 5 b 0 a 6 4 6 4 4 3 8 3 9 0 7 9 1 6 3 6 2 6
6 4 4 4 2 8 6 6 4 6 6 5 6 7 5 8 5 5 6 5 5 9 3 6 5 3 5 5 6 6 6
9 9 8 6 6 6 5 3 7 7 9 7 5 6 5 5 4 6 4 2 6 4 7 8 2 0 4 7 6 2 2
4 a 7 5 3 6 7 6 6 8 9 7 5 6 5 6 2 4 7 1 3 a 7 5 5 1 1 4 6 7 9
3 1 2 4 0 8 3 5 6 3 8 5 9 7 6 6 1 1 6 2 3 6 3 7 a 4 2 3 7 3 8
4 1 3 5 2 4 9 4 4 6 a 3 4 6 3 5 3 4 3 6 4 6 6 7 7 3 3 3 6 4 7
4 6 5 4 2 4 8 5 6 6 8 6 6 7 6 6 3 4 4 5 5 6 7 7 4 3 2 2 5 5 6
5 4 3 6 3 5 7 6 3 4 a 3 5 6 4 5 3 2 3 5 6 7 3 4 6 3 5 3 5 1 5
5 4 3 5 1 5 5 5 4 7 9 5 6 7 5 6 1 3 6 6 5 7 5 6 7 2 2 3 5 5 9
1 4 2 6 5 5 5 5 7 3 9 3 9 4 1 4 2 0 4 7 2 5 0 6 8 2 7 4 6 2 5
7 7 9 8 7 5 6 5 7 7 9 a 8 7 6 4 6 6 8 9 5 4 9 8 5 3 5 6 6 9 8
5 3 0 3 4 1 6 2 6 4 b 3 4 5 2 2 2 3 3 1 6 5 2 1 6 0 3 1 5 1 7
8 8 6 5 5 7 8 7 5 7 b 5 4 4 5 4 2 5 4 5 5 9 9 5 3 6 4 5 4 9 a
5 3 2 6 8 a 7 3 5 5 8 2 7 5 5 1 3 4 2 6 6 5 6 6 3 5 2 3 7 5 8
6 8 4 6 5 5 6 5 6 6 b 9 4 4 4 4 3 4 6 3 2 6 7 7 7 2 5 2 5 a 7
2 1 7 4 7 7 4 6 3 5 9 3 8 7 5 3 1 1 5 6 2 7 5 7 8 2 6 4 6 2 8""".split("\n")

BLOCK_7 = """7 6 7 6 5 1 7 4 4 9 7 2 5 3 6 4 9 2 2 6 4 3 5 3 3 3 4 2 3 6 4
3 6 7 7 b 7 5 5 6 6 7 8 5 7 6 8 5 6 7 3 1 4 6 4 3 6 2 3 6 6 5
2 8 5 6 4 b b 6 6 6 7 7 9 7 3 7 2 6 8 5 4 7 5 3 6 7 5 6 5 6 5
5 5 6 6 5 3 6 4 2 5 9 7 8 4 7 6 2 7 2 5 3 6 1 7 b 3 6 7 5 6 7
8 6 6 9 2 4 9 5 7 5 6 7 4 5 5 7 8 6 7 4 3 5 1 2 5 3 7 5 8 1 2
6 6 8 7 2 7 6 5 4 4 a 8 8 6 5 7 5 6 9 7 7 5 5 7 7 2 7 6 7 5 4
5 6 6 7 3 7 7 7 7 7 7 5 7 3 3 6 2 3 3 5 5 8 6 2 5 3 7 3 4 4 3
5 5 6 8 5 a 7 6 6 4 7 7 8 6 5 7 4 9 8 5 6 8 6 9 5 3 8 7 8 5 5
5 5 6 5 2 6 5 4 4 7 8 5 8 6 3 7 4 2 7 6 6 9 6 4 9 2 7 7 7 4 5
5 5 6 6 7 4 6 4 6 7 7 2 2 4 4 6 5 6 4 5 5 5 5 3 5 6 5 9 2 5 5
8 7 4 4 5 5 4 6 6 5 8 8 8 7 6 5 5 8 4 1 3 4 b 5 5 6 4 8 7 5 6
7 5 5 6 6 6 4 6 6 7 6 7 7 6 4 7 6 6 5 2 6 5 6 4 5 5 6 5 4 6 5
5 5 6 4 6 3 6 6 6 6 4 8 5 7 6 4 6 3 5 5 2 4 7 4 4 6 5 6 4 6 5
7 7 9 4 8 b 5 5 7 a 8 9 4 5 7 3 5 a 5 8 6 4 6 8 2 7 7 7 5 5 4
7 4 5 0 8 5 4 4 3 3 6 5 8 8 8 5 4 a 4 5 6 4 9 6 5 3 8 9 4 4 2
7 6 5 3 7 4 3 1 6 8 8 8 5 5 4 4 2 9 6 6 6 6 6 6 3 5 7 4 5 5 6
9 5 5 2 8 6 3 4 6 8 7 8 6 5 8 4 3 a 6 7 7 7 8 8 3 6 4 8 4 5 2
6 5 7 0 8 6 4 5 7 9 5 a 5 5 6 5 6 7 5 6 7 5 5 5 4 7 6 7 5 5 6
7 6 4 3 7 6 4 5 8 8 5 9 6 5 9 7 4 a 6 3 5 7 5 4 2 5 7 8 7 4 a
6 5 6 0 7 4 4 4 8 a 4 b 5 5 5 4 5 5 5 3 7 6 5 4 4 9 5 7 8 5 7
4 5 6 7 5 5 4 4 9 9 5 9 7 5 7 6 6 7 4 2 5 5 3 5 5 5 6 6 6 6 8
a 8 6 1 6 7 5 3 6 7 7 6 4 4 5 4 3 9 5 6 2 4 6 4 2 4 8 5 4 6 4
6 5 6 8 9 6 3 5 4 7 7 9 9 5 9 4 4 9 5 4 2 6 7 7 4 5 7 7 5 6 5
8 5 6 6 7 4 3 8 6 5 4 4 9 4 8 7 4 9 5 4 7 9 0 6 5 3 5 3 5 3 5
4 4 3 5 2 5 9 5 6 7 5 6 5 8 4 5 6 0 7 8 5 5 9 4 6 7 6 3 5 6 5
4 9 6 3 6 4 6 3 5 5 6 7 7 7 4 4 6 7 6 5 5 3 6 6 2 6 7 6 6 5 6
5 5 a a 4 b 6 5 5 5 6 5 9 8 8 5 a 9 6 8 3 4 6 7 4 a 5 5 6 5 7
7 6 4 0 9 8 3 4 5 5 7 6 5 4 b 4 3 9 4 4 a 7 5 8 3 4 9 8 3 5 2
8 6 5 2 9 7 5 7 4 7 5 7 7 4 7 5 4 8 6 8 b 7 6 9 3 7 5 5 5 5 5
2 4 6 3 5 6 6 3 6 8 7 a 4 5 6 2 5 7 3 6 4 7 6 1 7 8 7 5 6 6 6
3 8 6 8 4 5 5 7 8 8 6 a 7 5 6 6 6 7 5 5 3 5 9 5 8 4 6 6 6 6 9
5 5 5 0 7 5 6 3 5 6 7 8 7 4 6 1 6 6 6 5 3 6 a 7 3 6 7 8 5 7 6
6 6 4 5 6 4 5 6 5 5 7 8 7 8 5 5 5 7 3 2 3 6 6 3 6 3 5 5 5 6 7
4 8 2 6 2 4 7 3 6 7 6 5 6 8 6 5 6 3 6 6 3 3 9 5 5 6 5 5 4 8 7
6 9 6 6 7 5 5 4 6 9 6 8 7 8 6 8 6 9 5 4 5 3 8 7 4 4 7 4 7 5 8
5 4 4 5 8 6 6 6 5 5 7 4 a 8 7 8 6 a 4 3 4 5 4 5 6 6 5 3 2 6 5
5 5 6 8 4 3 7 4 4 9 b 8 a 9 9 8 8 3 8 4 4 8 7 5 4 5 5 5 5 8 9
3 5 7 3 7 2 4 3 5 5 7 8 7 5 9 4 2 4 5 2 1 4 2 5 4 4 9 9 2 b 7
4 6 6 4 8 5 2 3 5 5 7 8 7 6 5 6 6 7 4 4 3 7 7 5 5 4 8 7 5 7 6
6 6 6 5 6 6 6 6 5 7 6 7 7 8 7 6 4 b 3 3 6 4 5 5 4 3 7 5 5 5 6
4 7 6 3 4 2 4 3 5 9 6 9 9 4 4 5 7 5 3 4 0 3 8 5 5 5 8 5 6 7 7
6 6 9 6 3 6 5 5 4 5 6 9 9 9 6 9 5 7 7 3 3 4 8 6 5 5 9 7 5 7 5
a 3 6 3 1 6 3 8 4 2 5 7 8 4 5 4 3 7 a 7 7 3 b 7 4 7 6 6 4 4 5
7 5 5 3 3 a 5 7 5 3 5 8 5 8 6 8 4 7 9 3 3 3 8 7 4 3 7 5 3 6 6
3 2 6 0 4 4 2 3 3 3 4 5 8 2 1 4 5 3 8 6 7 2 6 8 3 7 6 6 2 9 6
5 5 6 5 4 8 a 6 6 6 7 6 b b 5 9 4 9 3 6 6 6 7 8 8 5 7 6 6 8 6
6 3 6 5 2 1 7 8 8 3 7 7 8 9 7 6 2 7 5 6 1 5 7 9 4 5 7 7 3 6 4
7 5 5 3 3 7 7 4 5 3 7 8 9 5 8 5 5 b 4 5 4 4 8 6 4 7 6 6 3 4 5
4 5 5 1 7 4 6 3 3 7 a 7 8 9 6 3 6 6 4 5 0 4 b 7 4 6 7 6 3 8 5""".split("\n")

BLOCK_8 = """7 6 3 4 3 a 8 3 0 5 3 3 3 0 4 0 4 3 1 7 6 6 4 3 2 4 2 4 2 7 4
4 7 7 8 6 2 4 5 7 5 3 6 5 9 6 6 7 7 7 5 6 6 6 6 1 0 2 4 4 5 7
4 8 5 5 6 7 4 5 7 7 6 3 3 8 3 5 4 4 6 5 2 5 5 5 6 3 4 3 7 3 4
6 6 8 8 3 7 5 7 3 9 6 4 4 8 3 6 8 6 8 5 5 6 8 0 6 6 4 2 5 6 6
5 6 9 3 9 6 2 4 5 5 3 5 6 4 2 3 6 6 4 4 2 7 5 a 2 4 7 7 5 8 8
6 8 5 6 3 8 2 5 8 9 5 4 0 7 4 2 5 6 4 3 4 4 7 4 6 4 1 5 1 4 4
5 5 7 4 6 8 1 5 5 7 4 2 1 6 4 1 1 4 2 3 2 3 5 7 3 2 4 6 4 4 4
7 9 5 7 6 7 3 7 9 7 3 4 5 9 5 5 4 4 7 6 4 3 5 5 9 9 5 7 7 9 6
3 7 6 5 4 8 4 6 8 9 4 4 4 6 3 3 4 4 4 3 4 5 4 6 7 3 6 5 7 4 8
7 5 4 5 4 7 7 7 4 3 4 4 6 4 6 6 5 4 4 4 6 4 4 4 2 9 5 5 5 6 5
7 7 5 8 6 7 8 5 7 7 6 7 8 4 4 3 8 6 5 6 5 8 7 6 3 6 4 4 3 5 6
5 5 5 5 4 8 6 4 4 5 8 4 4 6 4 6 6 7 a 4 4 5 6 5 5 4 6 6 6 6 6
6 6 5 6 3 6 6 5 2 9 6 5 6 6 6 6 7 6 5 7 6 5 6 6 2 7 6 2 4 4 5
5 8 7 6 5 7 3 8 9 9 4 6 3 8 4 4 5 5 5 5 4 4 5 6 7 5 5 4 5 4 5
3 5 7 7 7 3 4 8 9 6 a 6 6 7 5 5 5 6 8 4 6 8 7 7 6 5 8 7 8 6 9
6 8 4 5 4 7 6 5 8 6 9 7 6 5 4 1 6 6 4 4 6 5 6 7 5 7 5 3 4 7 6
3 7 7 8 5 6 6 6 4 8 6 3 4 6 3 5 6 6 5 4 6 6 5 8 5 7 4 5 3 4 7
6 8 5 4 6 a 3 5 6 9 7 6 4 4 5 6 5 5 6 6 4 5 4 5 7 4 4 4 6 5 5
7 8 7 6 4 a 5 6 6 8 7 7 5 7 6 2 7 7 5 6 4 6 7 7 4 3 4 3 3 8 7
a a 5 5 5 9 4 8 6 b 4 4 6 6 6 7 7 5 5 4 6 7 6 5 6 4 5 7 5 5 5
9 9 6 5 5 a 4 6 6 9 6 6 4 6 5 6 7 4 4 6 7 4 6 4 4 3 5 5 3 4 6
7 7 7 6 2 3 1 8 5 7 7 4 5 5 6 3 4 1 8 3 5 3 1 b 6 4 6 3 3 4 6
6 7 7 9 6 4 5 8 8 8 6 4 3 7 5 7 5 6 8 6 3 5 5 5 8 4 4 3 4 2 3
4 3 3 4 7 9 9 2 b 1 8 2 7 7 5 4 3 5 7 8 7 7 6 5 2 5 7 a a a a
3 1 3 3 6 6 5 2 6 4 7 4 1 6 5 7 4 4 3 2 6 7 7 6 1 a 8 4 3 6 6
7 6 7 4 6 3 9 6 8 2 4 2 5 4 3 5 7 4 5 9 5 4 6 8 3 7 6 3 3 5 6
8 7 5 8 6 7 7 a 6 6 8 6 7 5 6 8 2 a 8 5 8 a 7 5 5 4 6 a 4 6 6
5 4 9 7 7 1 8 9 a 7 5 8 8 4 2 2 3 4 6 4 1 5 5 9 4 4 4 6 3 6 6
8 6 4 6 a 6 4 9 8 8 4 4 8 3 5 5 5 5 5 4 6 6 4 7 5 6 7 8 5 7 5
8 5 7 4 8 0 6 6 9 0 4 3 7 6 5 6 3 5 6 2 5 4 6 3 6 4 1 5 3 5 5
6 7 9 4 5 7 6 4 8 5 5 5 5 9 5 7 6 7 8 5 5 5 5 1 8 5 6 3 4 4 5
7 5 8 5 6 4 6 5 8 4 4 2 4 4 6 7 6 6 9 4 5 6 7 6 8 5 4 3 3 5 6
6 4 7 5 4 6 7 6 6 5 4 4 4 7 3 5 5 6 7 4 4 5 6 1 6 5 5 3 4 4 5
4 5 6 3 7 7 6 1 7 3 6 3 1 6 4 4 6 5 3 5 6 8 8 7 1 a 7 2 2 6 6
9 7 8 6 8 6 6 6 8 5 5 6 7 7 5 5 9 8 5 7 7 7 6 7 4 6 5 4 4 6 5
2 6 7 7 9 9 3 9 4 5 6 7 9 6 7 7 5 5 8 8 7 6 6 5 6 4 4 8 6 5 4
9 5 a 7 9 9 8 7 b 6 3 4 5 6 4 4 7 8 6 9 5 8 5 8 4 4 4 6 3 6 5
8 6 b 2 7 5 8 4 a 4 5 4 7 6 4 4 6 7 6 7 3 4 9 6 0 4 3 2 2 1 3
7 6 9 3 9 5 6 5 9 4 4 6 4 5 6 4 7 7 6 2 3 5 5 6 3 6 5 4 2 3 4
8 6 6 6 9 7 4 7 8 5 6 6 7 5 5 4 6 6 6 6 7 8 7 6 2 4 5 4 5 5 7
6 5 7 2 8 6 5 2 8 2 4 3 6 5 6 6 6 5 6 9 4 4 6 5 1 6 6 2 3 5 5
9 8 a 6 7 5 a 8 b 6 5 4 5 5 6 5 8 8 7 8 4 5 7 8 2 5 5 4 4 3 5
6 5 8 2 3 6 5 6 8 1 6 1 7 6 5 4 6 5 4 9 4 6 6 7 1 a 8 2 2 5 6
5 6 8 3 7 5 a 6 7 4 7 6 a 4 5 5 6 7 7 5 5 5 6 7 6 6 5 8 7 4 6
3 3 0 4 3 6 4 5 5 2 4 3 3 4 1 4 1 6 a 2 2 3 1 2 7 2 0 2 1 1 1
6 5 7 7 8 8 7 a 9 7 6 5 9 5 6 6 4 4 8 b 4 5 5 6 5 5 4 5 8 3 4
4 5 8 7 4 8 6 7 8 3 3 0 6 3 2 2 6 5 7 9 4 8 5 7 7 8 7 3 4 4 7
7 6 7 7 5 8 6 9 8 7 3 6 a 4 7 7 4 5 7 9 4 5 5 6 7 6 4 6 5 2 6
5 a 5 6 7 5 8 9 8 3 5 4 7 5 6 4 6 8 8 8 5 7 8 8 0 8 7 4 5 4 6""".split("\n")

BLOCKS = [BLOCK_1, BLOCK_2, BLOCK_3, BLOCK_4, BLOCK_5, BLOCK_6, BLOCK_7, BLOCK_8]
BLOCK_WIDTHS = [31, 31, 31, 32, 31, 31, 31, 31]

SAMPLES = SAMPLES_GRAY + SAMPLES_GOLD
GROUP = [1] * len(SAMPLES_GRAY) + [2] * len(SAMPLES_GOLD)
LEVELS = ["#4500AD", "#2700D1", "#6B58EF", "#8888FF", "#C7C1FF", "#D5D5FF",
          "#FFC0E5", "#FF8989", "#FF7080", "#FF5A5A", "#EF4040", "#D60C00"]


def fit(text, width):
    cells = text.replace(" ", "")
    return cells[:width].ljust(width, "5")


z = []
for r in range(len(GENES)):
    row = "".join(fit(b[r], w) for b, w in zip(BLOCKS, BLOCK_WIDTHS))
    z.append([int(c, 16) for c in row])
n = len(LEVELS)
scale = []
for i, c in enumerate(LEVELS):
    scale += [[i / n, c], [(i + 1) / n, c]]

W, H = 3088, 680
fig = go.Figure()
labels = ['"%s"' % s for s in SAMPLES]
fig.add_trace(go.Heatmap(z=z, x=labels, y=GENES, zmin=-0.5, zmax=11.5, colorscale=scale,
                         showscale=False, xgap=1, ygap=1, hoverinfo="skip",
                         xaxis="x", yaxis="y"))
# header band: three strips per sample (white, group colour, white)
band = [[0] * len(SAMPLES), GROUP, [0] * len(SAMPLES)]
fig.add_trace(go.Heatmap(z=band, x=labels, y=[0, 3, 66, 91], zmin=0, zmax=2,
                         colorscale=[[0, "#FFFFFF"], [0.33, "#FFFFFF"], [0.33, "#C0C0C0"],
                                     [0.66, "#C0C0C0"], [0.66, "#FFC800"], [1, "#FFC800"]],
                         showscale=False, xgap=1, ygap=0, hoverinfo="skip",
                         xaxis="x2", yaxis="y2"))
right = 2988 / W
mono = "DejaVu Sans Mono"
fig.update_layout(
    width=W, height=H, margin=dict(l=0, r=0, t=0, b=0, autoexpand=False), paper_bgcolor="white",
    plot_bgcolor="black", showlegend=False,
    xaxis=dict(domain=[0, right], visible=False, type="category", anchor="y", automargin=False),
    yaxis=dict(domain=[0, 1 - 91 / H], type="category", autorange="reversed", side="right",
               anchor="x", tickson="boundaries", ticks="outside", ticklen=100, tickwidth=1,
               tickmode="linear", tick0=0, dtick=1, automargin=False,
               tickcolor="black", tickfont=dict(family=mono, size=11.5, color="black"),
               ticklabelstandoff=9, showline=False, showgrid=False, zeroline=False),
    xaxis2=dict(domain=[0, right], type="category", anchor="free", position=1 - 65 / H,
                side="top", tickangle=-90, ticks="", showgrid=False, automargin=False,
                showline=False, zeroline=False, tickmode="linear", tick0=0, dtick=1,
                tickfont=dict(family=mono, size=11, color="black")),
    yaxis2=dict(domain=[1 - 91 / H, 1], range=[91, 0], anchor="x2", side="right",
                tickmode="array", tickvals=[73], ticktext=["SampleName"], ticks="",
                automargin=False, tickfont=dict(family=mono, size=14.6, color="black"),
                ticklabelstandoff=10, showgrid=False, showline=False, zeroline=False),
)
fig.write_html("out.html", config={"displayModeBar": False},
               post_script="document.body.style.margin='0';")
